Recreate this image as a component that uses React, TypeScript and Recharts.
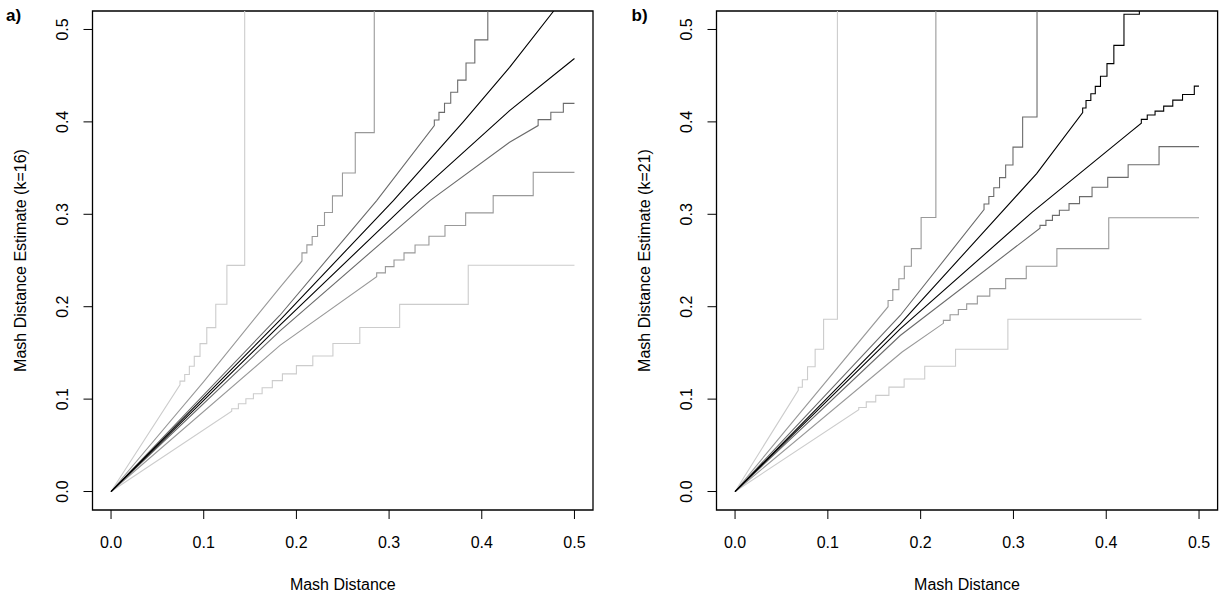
import React from "react";
import { LineChart, Line, XAxis, YAxis, ReferenceArea } from "recharts";

type Pt = [number, number];

// panel a (k=16): straight-ish part, then the visible steps
const aLightUpperLine: Pt[] = [[0, 0], [0.0744, 0.1155]];
const aLightUpperSteps: Pt[] = [[0.0744, 0.1195], [0.0795, 0.1267], [0.0845, 0.1355], [0.0898, 0.1462], [0.096, 0.16], [0.1033, 0.1774], [0.113, 0.2026], [0.125, 0.2447], [0.1442, 0.6]];
const aLightLowerLine: Pt[] = [[0, 0], [0.1302, 0.087]];
const aLightLowerSteps: Pt[] = [[0.1302, 0.0896], [0.1374, 0.095], [0.1455, 0.1004], [0.1536, 0.1058], [0.163, 0.1123], [0.174, 0.12], [0.1849, 0.1273], [0.2, 0.1362], [0.2177, 0.1466], [0.2394, 0.1601], [0.2684, 0.1775], [0.3114, 0.2025], [0.3854, 0.2448], [0.5, 0.2448]];
const aMidUpperLine: Pt[] = [[0, 0], [0.1, 0.119], [0.1823, 0.221], [0.206, 0.2495]];
const aMidUpperSteps: Pt[] = [[0.206, 0.2583], [0.2113, 0.2669], [0.217, 0.2759], [0.2228, 0.2878], [0.2303, 0.302], [0.2389, 0.3199], [0.2497, 0.3447], [0.2635, 0.3884], [0.284, 0.6]];
const aMidLowerLine: Pt[] = [[0, 0], [0.1823, 0.1581], [0.2866, 0.2325]];
const aMidLowerSteps: Pt[] = [[0.2866, 0.2366], [0.296, 0.2434], [0.3053, 0.2506], [0.3161, 0.2582], [0.328, 0.2668], [0.343, 0.2762], [0.3603, 0.2878], [0.3826, 0.3015], [0.4123, 0.3202], [0.4555, 0.3454], [0.5, 0.3454]];
const aDarkUpperLine: Pt[] = [[0, 0], [0.182, 0.1905], [0.2866, 0.3148], [0.3488, 0.396]];
const aDarkUpperSteps: Pt[] = [[0.3488, 0.402], [0.3538, 0.4103], [0.3598, 0.4202], [0.3665, 0.432], [0.374, 0.4452], [0.383, 0.4638], [0.3925, 0.4888], [0.4065, 0.6]];
const aDarkLowerLine: Pt[] = [[0, 0], [0.182, 0.1736], [0.3441, 0.3148], [0.43, 0.378], [0.4608, 0.396]];
const aDarkLowerSteps: Pt[] = [[0.4608, 0.4025], [0.4745, 0.4105], [0.488, 0.42], [0.5, 0.42]];
const aBlackUpper: Pt[] = [[0, 0], [0.182, 0.1852], [0.3046, 0.3148], [0.38, 0.4], [0.43, 0.459], [0.4776, 0.52]];
const aBlackLower: Pt[] = [[0, 0], [0.182, 0.1797], [0.3225, 0.3148], [0.43, 0.4122], [0.5, 0.4686]];

// panel b (k=21)
const bLightUpperLine: Pt[] = [[0, 0], [0.0681, 0.1095]];
const bLightUpperSteps: Pt[] = [[0.0681, 0.1128], [0.0725, 0.121], [0.0781, 0.135], [0.0863, 0.154], [0.0954, 0.1865], [0.1103, 0.6]];
const bLightLowerLine: Pt[] = [[0, 0], [0.1333, 0.0885]];
const bLightLowerSteps: Pt[] = [[0.1333, 0.091], [0.1414, 0.097], [0.1516, 0.104], [0.1658, 0.113], [0.1822, 0.1217], [0.2044, 0.1355], [0.2376, 0.154], [0.294, 0.1865], [0.438, 0.1865]];
const bMidUpperLine: Pt[] = [[0, 0], [0.1649, 0.2]];
const bMidUpperSteps: Pt[] = [[0.1649, 0.2067], [0.17, 0.2185], [0.1765, 0.2303], [0.1824, 0.2437], [0.19, 0.2629], [0.2005, 0.2965], [0.2164, 0.6]];
const bMidLowerLine: Pt[] = [[0, 0], [0.18, 0.151], [0.2245, 0.182]];
const bMidLowerSteps: Pt[] = [[0.2245, 0.1852], [0.2317, 0.1913], [0.2406, 0.197], [0.2496, 0.2031], [0.2611, 0.2114], [0.2745, 0.2196], [0.2916, 0.2304], [0.3138, 0.2438], [0.3468, 0.2629], [0.4027, 0.2963], [0.5, 0.2963]];
const bDarkUpperLine: Pt[] = [[0, 0], [0.178, 0.1905], [0.2683, 0.305]];
const bDarkUpperSteps: Pt[] = [[0.2683, 0.3112], [0.2735, 0.3192], [0.2788, 0.3287], [0.285, 0.3397], [0.2916, 0.3534], [0.2995, 0.3727], [0.3099, 0.4053], [0.3254, 0.6]];
const bDarkLowerLine: Pt[] = [[0, 0], [0.178, 0.1688], [0.3286, 0.285]];
const bDarkLowerSteps: Pt[] = [[0.3286, 0.288], [0.335, 0.2934], [0.342, 0.2988], [0.3495, 0.3043], [0.3599, 0.3115], [0.3712, 0.3191], [0.3847, 0.3292], [0.4016, 0.34], [0.4236, 0.3536], [0.4569, 0.3732], [0.5, 0.3732]];
const bBlackUpperLine: Pt[] = [[0, 0], [0.178, 0.1814], [0.325, 0.344], [0.3746, 0.41]];
const bBlackUpperSteps: Pt[] = [[0.3746, 0.4151], [0.3782, 0.4232], [0.3834, 0.4305], [0.3882, 0.4384], [0.3938, 0.4494], [0.4008, 0.463], [0.4082, 0.4828], [0.4191, 0.5165], [0.4357, 0.6]];
const bBlackLowerLine: Pt[] = [[0, 0], [0.178, 0.176], [0.32, 0.302], [0.4256, 0.3887], [0.4378, 0.3985]];
const bBlackLowerSteps: Pt[] = [[0.4378, 0.4027], [0.4442, 0.4074], [0.4526, 0.4117], [0.4619, 0.4171], [0.4717, 0.4236], [0.4822, 0.4297], [0.4949, 0.4387], [0.5, 0.4387]];

const TICKS = [0, 0.1, 0.2, 0.3, 0.4, 0.5];
const DOMAIN: [number, number] = [-0.02, 0.52];
const FONT = "'Liberation Sans', Arial, Helvetica, sans-serif";

const LIGHT = "#cccccc";
const MID = "#999999";
const DARK = "#6b6b6b";
const BLACK = "#000000";

// steps are read as stepAfter points: level y starts at x and runs to the next x
const build = (line: Pt[], steps: Pt[] = []) => {
  const out = line.map(([x, y]) => ({ x, y }));
  steps.forEach(([x, y], i) => {
    out.push({ x, y });
    if (i < steps.length - 1) out.push({ x: steps[i + 1][0], y });
  });
  return out;
};

const panelA = [
  { name: "lu", color: LIGHT, data: build(aLightUpperLine, aLightUpperSteps) },
  { name: "ll", color: LIGHT, data: build(aLightLowerLine, aLightLowerSteps) },
  { name: "mu", color: MID, data: build(aMidUpperLine, aMidUpperSteps) },
  { name: "ml", color: MID, data: build(aMidLowerLine, aMidLowerSteps) },
  { name: "du", color: DARK, data: build(aDarkUpperLine, aDarkUpperSteps) },
  { name: "dl", color: DARK, data: build(aDarkLowerLine, aDarkLowerSteps) },
  { name: "bu", color: BLACK, data: build(aBlackUpper) },
  { name: "bl", color: BLACK, data: build(aBlackLower) },
];

const panelB = [
  { name: "lu", color: LIGHT, data: build(bLightUpperLine, bLightUpperSteps) },
  { name: "ll", color: LIGHT, data: build(bLightLowerLine, bLightLowerSteps) },
  { name: "mu", color: MID, data: build(bMidUpperLine, bMidUpperSteps) },
  { name: "ml", color: MID, data: build(bMidLowerLine, bMidLowerSteps) },
  { name: "du", color: DARK, data: build(bDarkUpperLine, bDarkUpperSteps) },
  { name: "dl", color: DARK, data: build(bDarkLowerLine, bDarkLowerSteps) },
  { name: "bu", color: BLACK, data: build(bBlackUpperLine, bBlackUpperSteps) },
  { name: "bl", color: BLACK, data: build(bBlackLowerLine, bBlackLowerSteps) },
];

const XTick = (props: any) => {
  const { x, y, payload } = props;
  return (
    <text x={x} y={y + 27} textAnchor="middle" fontSize={16} fontFamily={FONT} fill="#000">
      {Number(payload.value).toFixed(1)}
    </text>
  );
};

const YTick = (props: any) => {
  const { x, y, payload } = props;
  const bx = x - 13;
  return (
    <text x={bx} y={y} transform={`rotate(-90, ${bx}, ${y})`} textAnchor="middle" fontSize={16} fontFamily={FONT} fill="#000">
      {Number(payload.value).toFixed(1)}
    </text>
  );
};

type PanelProps = {
  curves: { name: string; color: string; data: { x: number; y: number }[] }[];
  yWidth: number;
  right: number;
};

const Panel = ({ curves, yWidth, right }: PanelProps) => (
  <LineChart width={612} height={596} margin={{ top: 11, right, bottom: 0, left: 0 }}>
    <XAxis
      type="number"
      dataKey="x"
      domain={DOMAIN}
      ticks={TICKS}
      interval={0}
      allowDataOverflow
      height={86}
      axisLine={false}
      tickLine={{ stroke: "#000" }}
      tickSize={9}
      tick={<XTick />}
    />
    <YAxis
      type="number"
      domain={DOMAIN}
      ticks={TICKS}
      interval={0}
      allowDataOverflow
      width={yWidth}
      axisLine={false}
      tickLine={{ stroke: "#000" }}
      tickSize={9}
      tick={<YTick />}
    />
    {curves.map((c) => (
      <Line
        key={c.name}
        name={c.name}
        data={c.data}
        dataKey="y"
        type="linear"
        stroke={c.color}
        strokeWidth={1.1}
        dot={false}
        activeDot={false}
        isAnimationActive={false}
      />
    ))}
    <ReferenceArea x1={-0.02} x2={0.52} y1={-0.02} y2={0.52} fill="none" stroke="#000" strokeWidth={1.3} ifOverflow="visible" />
  </LineChart>
);

export default function App() {
  const txt = { fontFamily: FONT, fontSize: 16, fill: "#000" };
  return (
    <div style={{ position: "absolute", left: 0, top: 0, width: 1225, height: 596, background: "#fff" }}>
      <div style={{ position: "absolute", left: 0, top: 0 }}>
        <Panel curves={panelA} yWidth={92.5} right={19} />
      </div>
      <div style={{ position: "absolute", left: 612, top: 0 }}>
        <Panel curves={panelB} yWidth={104.5} right={6.4} />
      </div>
      <svg width={1225} height={596} style={{ position: "absolute", left: 0, top: 0, pointerEvents: "none" }}>
        <text x={6} y={21} fontFamily={FONT} fontSize={17} fontWeight="bold">a)</text>
        <text x={631.5} y={21} fontFamily={FONT} fontSize={17} fontWeight="bold">b)</text>
        <text x={342.8} y={589.5} textAnchor="middle" {...txt}>Mash Distance</text>
        <text x={967} y={589.5} textAnchor="middle" {...txt}>Mash Distance</text>
        <text x={25.5} y={260.5} transform="rotate(-90, 25.5, 260.5)" textAnchor="middle" {...txt}>Mash Distance Estimate (k=16)</text>
        <text x={649.5} y={260.5} transform="rotate(-90, 649.5, 260.5)" textAnchor="middle" {...txt}>Mash Distance Estimate (k=21)</text>
      </svg>
    </div>
  );
}
